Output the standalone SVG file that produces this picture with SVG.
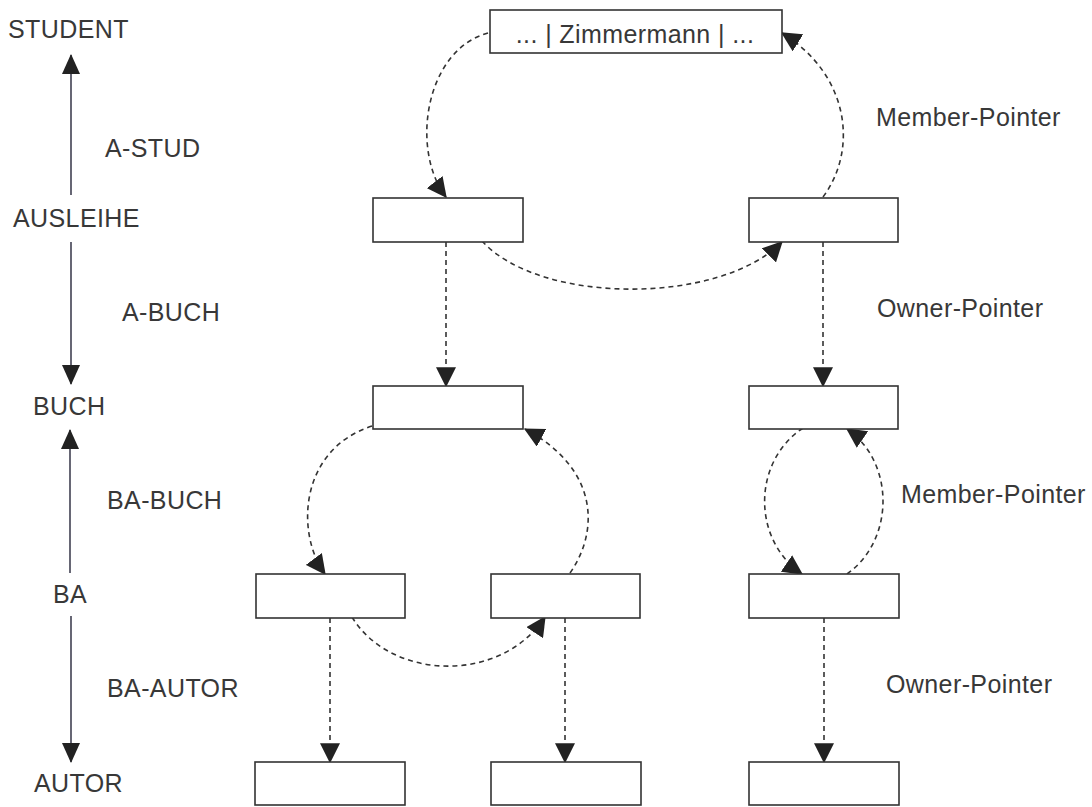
<svg xmlns="http://www.w3.org/2000/svg" width="1092" height="807" viewBox="0 0 1092 807">
  <style>
    .lbl { font-family: "Liberation Sans", Arial, sans-serif; font-size: 25px; fill: #383838; letter-spacing: 0.4px; }
    .rec { fill: #fff; stroke: #333; stroke-width: 1.6; }
    .axis { fill: none; stroke: #404052; stroke-width: 1.6; }
    .ptr { fill: none; stroke: #333; stroke-width: 1.6; stroke-dasharray: 5 4; }
  </style>
  <defs>
    <marker id="head" markerUnits="userSpaceOnUse" markerWidth="20" markerHeight="20" viewBox="0 0 16 16" refX="15" refY="8" orient="auto">
      <path d="M0,0 L16,8 L0,16 z" fill="#222"/>
    </marker>
    <marker id="axisHead" markerUnits="userSpaceOnUse" markerWidth="20" markerHeight="20" viewBox="0 0 20 20" refX="19" refY="10" orient="auto">
      <path d="M0,1 L20,10 L0,19 z" fill="#222"/>
    </marker>
  </defs>
  <rect width="1092" height="807" fill="#fff"/>

  <!-- record-type axis on the left -->
  <g id="axis-labels">
    <text class="lbl" x="8" y="38">STUDENT</text>
    <text class="lbl" x="105" y="157">A-STUD</text>
    <text class="lbl" x="13" y="227">AUSLEIHE</text>
    <text class="lbl" x="122" y="321">A-BUCH</text>
    <text class="lbl" x="33" y="415">BUCH</text>
    <text class="lbl" x="107" y="509">BA-BUCH</text>
    <text class="lbl" x="53" y="603">BA</text>
    <text class="lbl" x="107" y="697">BA-AUTOR</text>
    <text class="lbl" x="34" y="792">AUTOR</text>
  </g>

  <!-- pointer type labels -->
  <g id="pointer-labels">
    <text class="lbl" x="876" y="126">Member-Pointer</text>
    <text class="lbl" x="877" y="317">Owner-Pointer</text>
    <text class="lbl" x="901" y="503">Member-Pointer</text>
    <text class="lbl" x="886" y="693">Owner-Pointer</text>
  </g>

  <g id="connectors">
    <!-- set arrows on the axis -->
    <line class="axis" x1="71" y1="195" x2="71" y2="55" marker-end="url(#axisHead)"/>
    <line class="axis" x1="71" y1="242" x2="71" y2="384" marker-end="url(#axisHead)"/>
    <line class="axis" x1="70" y1="573" x2="70" y2="430" marker-end="url(#axisHead)"/>
    <line class="axis" x1="71" y1="616" x2="71" y2="762" marker-end="url(#axisHead)"/>

    <!-- A-STUD member chain -->
    <path class="ptr" d="M488,33 C425,50 410,150 446,197" marker-end="url(#head)"/>
    <path class="ptr" d="M823,197 C858,150 850,75 782,33" marker-end="url(#head)"/>
    <path class="ptr" d="M482,241 C540,305 720,305 782,242" marker-end="url(#head)"/>

    <!-- A-BUCH owner pointers -->
    <line class="ptr" x1="446" y1="242" x2="446" y2="386" marker-end="url(#head)"/>
    <line class="ptr" x1="823" y1="242" x2="823" y2="386" marker-end="url(#head)"/>

    <!-- BA-BUCH member chains -->
    <path class="ptr" d="M372,426 C298,450 296,535 325,574" marker-end="url(#head)"/>
    <path class="ptr" d="M570,573 C600,530 598,468 525,429" marker-end="url(#head)"/>
    <path class="ptr" d="M352,617 C390,680 500,685 545,617" marker-end="url(#head)"/>
    <path class="ptr" d="M803,428 C752,462 752,540 802,574" marker-end="url(#head)"/>
    <path class="ptr" d="M847,574 C895,540 895,462 847,429" marker-end="url(#head)"/>

    <!-- BA-AUTOR owner pointers -->
    <line class="ptr" x1="330" y1="618" x2="330" y2="762" marker-end="url(#head)"/>
    <line class="ptr" x1="565" y1="618" x2="565" y2="762" marker-end="url(#head)"/>
    <line class="ptr" x1="824" y1="618" x2="824" y2="762" marker-end="url(#head)"/>
  </g>

  <!-- records -->
  <g id="student">
    <rect class="rec" x="490" y="10" width="292" height="43"/>
    <text class="lbl" x="635" y="43" text-anchor="middle">... | Zimmermann | ...</text>
  </g>
  <g id="ausleihe-1"><rect class="rec" x="373" y="198" width="150" height="44"/></g>
  <g id="ausleihe-2"><rect class="rec" x="749" y="198" width="149" height="44"/></g>
  <g id="buch-1"><rect class="rec" x="373" y="386" width="150" height="43"/></g>
  <g id="buch-2"><rect class="rec" x="749" y="386" width="149" height="43"/></g>
  <g id="ba-1"><rect class="rec" x="256" y="574" width="149" height="44"/></g>
  <g id="ba-2"><rect class="rec" x="491" y="574" width="149" height="44"/></g>
  <g id="ba-3"><rect class="rec" x="749" y="574" width="150" height="44"/></g>
  <g id="autor-1"><rect class="rec" x="255" y="762" width="150" height="43"/></g>
  <g id="autor-2"><rect class="rec" x="491" y="762" width="150" height="43"/></g>
  <g id="autor-3"><rect class="rec" x="749" y="762" width="150" height="43"/></g>
</svg>
